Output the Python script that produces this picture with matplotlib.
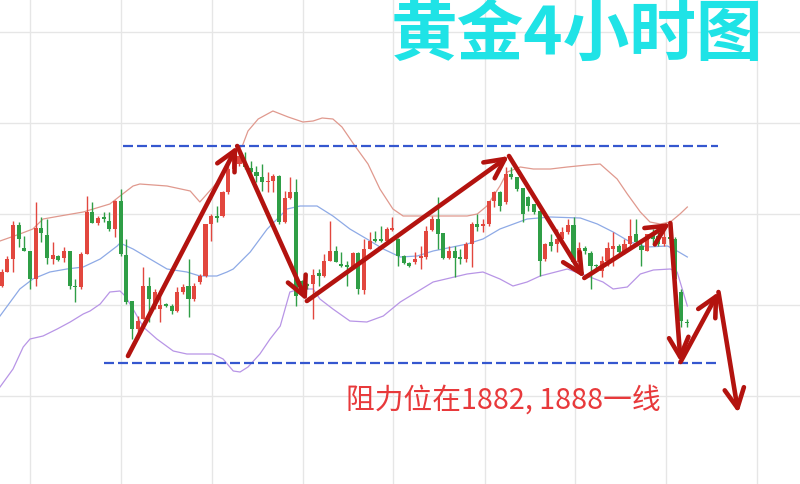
import numpy as np
import matplotlib.pyplot as plt

plt.rcParams['font.family'] = ['Noto Sans CJK SC', 'DejaVu Sans']

# 4小时K线 (open, high, low, close)
opens = [1891.3, 1892.7, 1894.0, 1897.4, 1895.1, 1894.8, 1892.0, 1897.1, 1896.4, 1894.0,
         1894.3, 1894.1, 1894.8, 1891.3, 1891.2, 1894.5, 1898.7, 1897.6, 1898.2, 1897.8,
         1897.0, 1899.8, 1894.4, 1889.8, 1887.0, 1888.0, 1891.3, 1889.3, 1889.0, 1889.5,
         1889.3, 1888.8, 1890.7, 1891.3, 1890.0, 1891.7, 1892.3, 1897.5, 1898.3, 1898.3,
         1900.7, 1903.0, 1903.5, 1903.7, 1903.1, 1902.7, 1902.2, 1901.7, 1901.8, 1902.3,
         1897.7, 1900.1, 1900.7, 1891.8, 1891.5, 1891.5, 1892.6, 1892.3, 1893.8, 1894.8,
         1893.5, 1893.4, 1893.2, 1894.6, 1890.9, 1895.0, 1896.0, 1896.0, 1895.8, 1896.9,
         1896.0, 1894.3, 1893.6, 1893.7, 1894.1, 1894.2, 1896.9, 1898.0, 1896.6, 1894.1,
         1894.8, 1894.2, 1894.0, 1895.5, 1897.5, 1897.3, 1897.5, 1899.8, 1900.7, 1899.7,
         1902.5, 1902.2, 1901.1, 1900.2, 1899.5, 1898.8, 1894.0, 1895.7, 1895.5, 1896.0,
         1896.7, 1897.4, 1893.7, 1895.1, 1894.6, 1893.4, 1892.8, 1893.8, 1895.0, 1895.3,
         1894.7, 1895.5, 1896.5, 1895.3, 1894.8, 1896.5, 1896.3, 1895.5, 1896.2, 1896.0,
         1890.7, 1887.7]
highs = [1893.0, 1894.3, 1897.8, 1897.7, 1896.3, 1894.8, 1899.7, 1898.2, 1898.0, 1895.7,
         1894.4, 1895.2, 1894.8, 1892.0, 1894.7, 1900.3, 1899.7, 1898.3, 1898.7, 1898.7,
         1899.9, 1901.0, 1896.0, 1889.8, 1888.3, 1893.2, 1892.2, 1891.0, 1890.3, 1889.6,
         1889.5, 1891.2, 1891.5, 1894.0, 1891.6, 1892.5, 1897.5, 1898.5, 1899.3, 1900.8,
         1903.8, 1904.5, 1905.0, 1904.7, 1903.8, 1903.3, 1903.5, 1902.7, 1902.5, 1902.4,
         1900.8, 1902.2, 1902.0, 1891.9, 1891.6, 1893.0, 1893.0, 1894.5, 1897.8, 1895.3,
         1894.7, 1893.8, 1894.7, 1894.7, 1896.0, 1896.7, 1896.8, 1897.3, 1897.2, 1898.2,
         1896.1, 1894.4, 1893.7, 1894.7, 1895.3, 1897.3, 1898.3, 1900.2, 1896.6, 1895.3,
         1895.3, 1895.0, 1895.7, 1897.7, 1898.5, 1898.0, 1899.8, 1900.8, 1900.8, 1903.2,
         1903.2, 1902.2, 1901.1, 1900.3, 1899.5, 1898.8, 1895.6, 1896.5, 1897.0, 1897.2,
         1898.0, 1898.2, 1895.7, 1895.3, 1894.8, 1893.5, 1894.3, 1895.7, 1896.7, 1895.5,
         1896.0, 1898.0, 1898.0, 1896.0, 1896.5, 1897.0, 1897.0, 1897.0, 1896.8, 1896.2,
         1891.0, 1888.0]
lows = [1891.2, 1892.7, 1892.7, 1895.2, 1894.8, 1891.0, 1891.3, 1895.7, 1893.5, 1893.5,
        1893.8, 1893.7, 1891.0, 1889.7, 1891.0, 1894.5, 1897.6, 1897.4, 1897.7, 1896.8,
        1896.2, 1894.3, 1889.5, 1886.0, 1886.0, 1888.0, 1887.7, 1889.0, 1887.7, 1889.2,
        1888.5, 1888.7, 1890.5, 1888.2, 1889.8, 1891.5, 1892.2, 1895.8, 1897.7, 1898.2,
        1900.5, 1902.8, 1903.3, 1903.0, 1902.0, 1901.7, 1900.8, 1900.7, 1900.7, 1897.5,
        1897.6, 1900.0, 1889.3, 1890.3, 1891.0, 1888.0, 1891.3, 1892.2, 1893.8, 1893.7,
        1893.2, 1891.3, 1893.0, 1890.5, 1890.5, 1895.0, 1895.7, 1895.7, 1895.7, 1896.8,
        1893.3, 1893.5, 1893.2, 1893.5, 1893.0, 1894.0, 1896.8, 1895.0, 1894.0, 1894.0,
        1892.2, 1893.5, 1893.7, 1893.2, 1896.8, 1896.7, 1897.3, 1899.2, 1898.8, 1899.5,
        1902.0, 1900.8, 1897.7, 1898.8, 1898.5, 1892.3, 1893.8, 1894.8, 1894.7, 1896.0,
        1896.5, 1893.3, 1893.3, 1894.5, 1891.0, 1893.0, 1892.2, 1893.3, 1893.3, 1894.5,
        1894.5, 1895.3, 1895.3, 1893.3, 1894.8, 1895.5, 1895.3, 1895.3, 1895.5, 1892.0,
        1887.2, 1887.2]
closes = [1892.7, 1894.0, 1897.4, 1896.0, 1894.8, 1892.0, 1897.1, 1896.6, 1894.1, 1894.4,
          1893.9, 1894.8, 1891.3, 1891.2, 1894.5, 1898.7, 1897.6, 1898.1, 1898.0, 1897.0,
          1899.8, 1894.5, 1889.7, 1887.0, 1887.8, 1891.3, 1890.0, 1890.7, 1889.4, 1889.3,
          1888.8, 1890.7, 1891.2, 1890.0, 1891.3, 1892.3, 1897.5, 1898.3, 1898.1, 1900.7,
          1903.0, 1904.2, 1904.3, 1903.2, 1902.7, 1902.3, 1901.7, 1901.8, 1902.3, 1897.7,
          1900.1, 1900.7, 1890.3, 1891.5, 1891.3, 1892.4, 1892.3, 1893.8, 1894.8, 1893.7,
          1893.3, 1893.2, 1894.6, 1891.0, 1895.0, 1895.8, 1895.8, 1895.8, 1897.0, 1897.1,
          1894.3, 1893.6, 1893.3, 1894.0, 1894.3, 1896.8, 1898.0, 1896.5, 1894.1, 1894.8,
          1894.1, 1894.0, 1895.5, 1897.5, 1897.2, 1897.5, 1899.8, 1900.7, 1899.3, 1902.5,
          1902.2, 1901.0, 1898.5, 1899.3, 1898.7, 1893.8, 1895.5, 1895.3, 1896.0, 1896.7,
          1897.4, 1893.7, 1895.1, 1894.8, 1893.3, 1893.3, 1893.8, 1895.1, 1895.3, 1894.7,
          1895.5, 1896.3, 1895.7, 1894.9, 1896.5, 1896.0, 1895.5, 1896.2, 1896.0, 1892.0,
          1887.8, 1887.6]

# 布林带 (K线序号, 价格)
upper_x = [-0.3, 3.2, 5.5, 7.3, 10.3, 14.4, 19.1, 20.9, 23.2, 24.4, 29.2, 33.3, 35.0,
           38.6, 40.9, 42.5, 43.5, 45.3, 47.9, 50.6, 53.2, 55.0, 56.6, 58.5, 60.1, 62.4,
           64.7, 66.8, 69.1, 70.9, 82.2, 84.0, 85.7, 88.0, 89.3, 91.6, 93.9, 96.9, 99.9,
           103.4, 105.7, 108.7, 110.5, 112.8, 114.5, 116.3, 118.1, 119.8, 121.1]
upper_y = [1895.8, 1896.5, 1897.0, 1898.0, 1898.3, 1898.7, 1899.5, 1900.3, 1901.3, 1901.5,
           1901.3, 1900.8, 1899.7, 1902.0, 1904.8, 1905.3, 1906.8, 1908.0, 1908.8, 1908.2,
           1907.7, 1907.8, 1908.1, 1908.0, 1907.2, 1905.3, 1903.5, 1901.0, 1899.0, 1898.3,
           1898.3, 1898.5, 1899.3, 1901.3, 1902.7, 1903.2, 1903.0, 1903.0, 1903.2, 1903.4,
           1903.5, 1902.0, 1900.5, 1898.7, 1897.7, 1897.5, 1897.7, 1898.5, 1899.2]
mid_x = [-0.3, 3.2, 5.5, 8.5, 11.5, 14.4, 17.4, 20.4, 20.9, 23.2, 26.2, 29.2, 32.7, 35.0,
         38.0, 39.8, 40.9, 43.9, 46.9, 50.4, 52.7, 55.7, 58.5, 61.5, 64.5, 67.4, 70.4,
         73.4, 76.2, 82.2, 85.0, 88.0, 92.8, 96.9, 102.2, 105.2, 108.0, 111.0, 114.0,
         117.6, 119.3, 121.1]
mid_y = [1888.3, 1891.0, 1892.0, 1892.7, 1893.0, 1893.2, 1894.0, 1895.3, 1895.6, 1895.0,
         1894.0, 1893.0, 1892.7, 1892.3, 1892.3, 1892.7, 1893.0, 1894.7, 1897.0, 1899.0,
         1899.3, 1899.3, 1898.3, 1897.0, 1896.0, 1895.0, 1894.2, 1894.3, 1894.8, 1895.5,
         1896.0, 1897.0, 1898.0, 1898.2, 1898.1, 1897.5, 1896.7, 1895.7, 1895.2, 1895.3,
         1894.8, 1894.2]
lower_x = [-0.3, 2.0, 3.8, 5.0, 7.3, 9.8, 12.1, 14.4, 15.6, 17.4, 19.1, 20.9, 21.8, 23.2,
           25.0, 27.4, 30.3, 32.7, 37.3, 39.1, 40.9, 42.1, 43.5, 45.6, 47.4, 49.2, 50.9,
           52.7, 55.0, 56.2, 58.5, 61.5, 64.5, 67.4, 70.4, 76.2, 82.2, 85.0, 88.0, 90.3,
           92.8, 95.1, 99.9, 103.4, 106.2, 108.0, 110.5, 112.8, 115.1, 118.1, 119.3, 121.1]
lower_y = [1881.2, 1883.0, 1885.2, 1886.0, 1886.3, 1887.0, 1887.7, 1888.5, 1888.8, 1889.5,
           1890.7, 1890.8, 1890.3, 1889.0, 1887.2, 1886.0, 1884.8, 1884.5, 1884.5, 1884.0,
           1882.8, 1882.7, 1883.2, 1884.5, 1886.0, 1887.3, 1890.7, 1891.0, 1891.0, 1890.0,
           1889.0, 1887.8, 1887.7, 1888.3, 1889.7, 1891.7, 1892.5, 1892.7, 1892.0, 1891.3,
           1891.7, 1892.3, 1893.0, 1892.3, 1891.7, 1891.0, 1891.2, 1892.5, 1892.9, 1893.0,
           1892.7, 1889.3]

# 区间上下沿
box_top = 1905.3
box_top_span = [21.4, 126.6]
box_low = 1883.6
box_low_span = [18.1, 126.6]

# 走势箭头路径
path_x = [22.3, 41.6, 53.9, 89.6, 102.9, 118.1, 119.9, 126.6, 130.1]
path_y = [1884.3, 1905.3, 1889.8, 1904.3, 1892.1, 1897.6, 1883.7, 1890.7, 1878.6]

grid_x = [5.0, 21.1, 37.1, 53.2, 69.2, 85.3, 101.3, 117.4, 133.4]
grid_y = [1880.3, 1889.4, 1898.5, 1907.6, 1916.7]

title = "黄金4小时图"
note = "阻力位在1882, 1888一线"

fig = plt.figure(figsize=(8, 4.85), dpi=100)
ax = fig.add_axes([0, 0, 1, 1])
ax.set_xlim(-0.3, 141.0)
ax.set_ylim(1871.5, 1920.0)

# 网格
ax.set_xticks(grid_x)
ax.set_yticks(grid_y)
ax.grid(color='#e6e6e6', lw=1)
ax.set_axisbelow(True)
ax.tick_params(length=0, labelbottom=False, labelleft=False)
for s in ax.spines.values():
    s.set_visible(False)

# 布林带
ax.plot(upper_x, upper_y, color='#e0998e', lw=0.9, zorder=2)
ax.plot(mid_x, mid_y, color='#8eaae6', lw=0.9, zorder=2)
ax.plot(lower_x, lower_y, color='#b895e6', lw=0.9, zorder=2)

# K线
o = np.array(opens)
c = np.array(closes)
idx = np.arange(len(o))
cols = np.where(c >= o, '#e2473e', '#2f9e46')
ax.vlines(idx, lows, highs, color=cols, lw=1, zorder=3)
ax.bar(idx, np.maximum(np.abs(c - o), 0.15), bottom=np.minimum(o, c),
       width=0.72, color=cols, linewidth=0, zorder=4)

# 虚线
ax.plot(box_top_span, [box_top, box_top], color='#3557cf', lw=1.6,
        dashes=(4.5, 1.8), zorder=5)
ax.plot(box_low_span, [box_low, box_low], color='#3557cf', lw=1.6,
        dashes=(4.5, 1.8), zorder=5)

# 箭头
for k in range(len(path_x) - 1):
    ax.annotate('', xy=(path_x[k + 1], path_y[k + 1]), xytext=(path_x[k], path_y[k]),
                arrowprops=dict(arrowstyle='->,head_length=1.4,head_width=0.7',
                                color='#b3130f', lw=3.3, shrinkA=0, shrinkB=0,
                                mutation_scale=10),
                zorder=6)

ax.text(0.721, 0.928, title, transform=ax.transAxes, ha='center', va='center',
        fontsize=48, color='#1fe3e6', fontweight='bold', zorder=7)
ax.text(0.4325, 0.175, note, transform=ax.transAxes, ha='left', va='center',
        fontsize=20.7, color='#e8393b', zorder=7)

fig.savefig('out.png', dpi=100)
